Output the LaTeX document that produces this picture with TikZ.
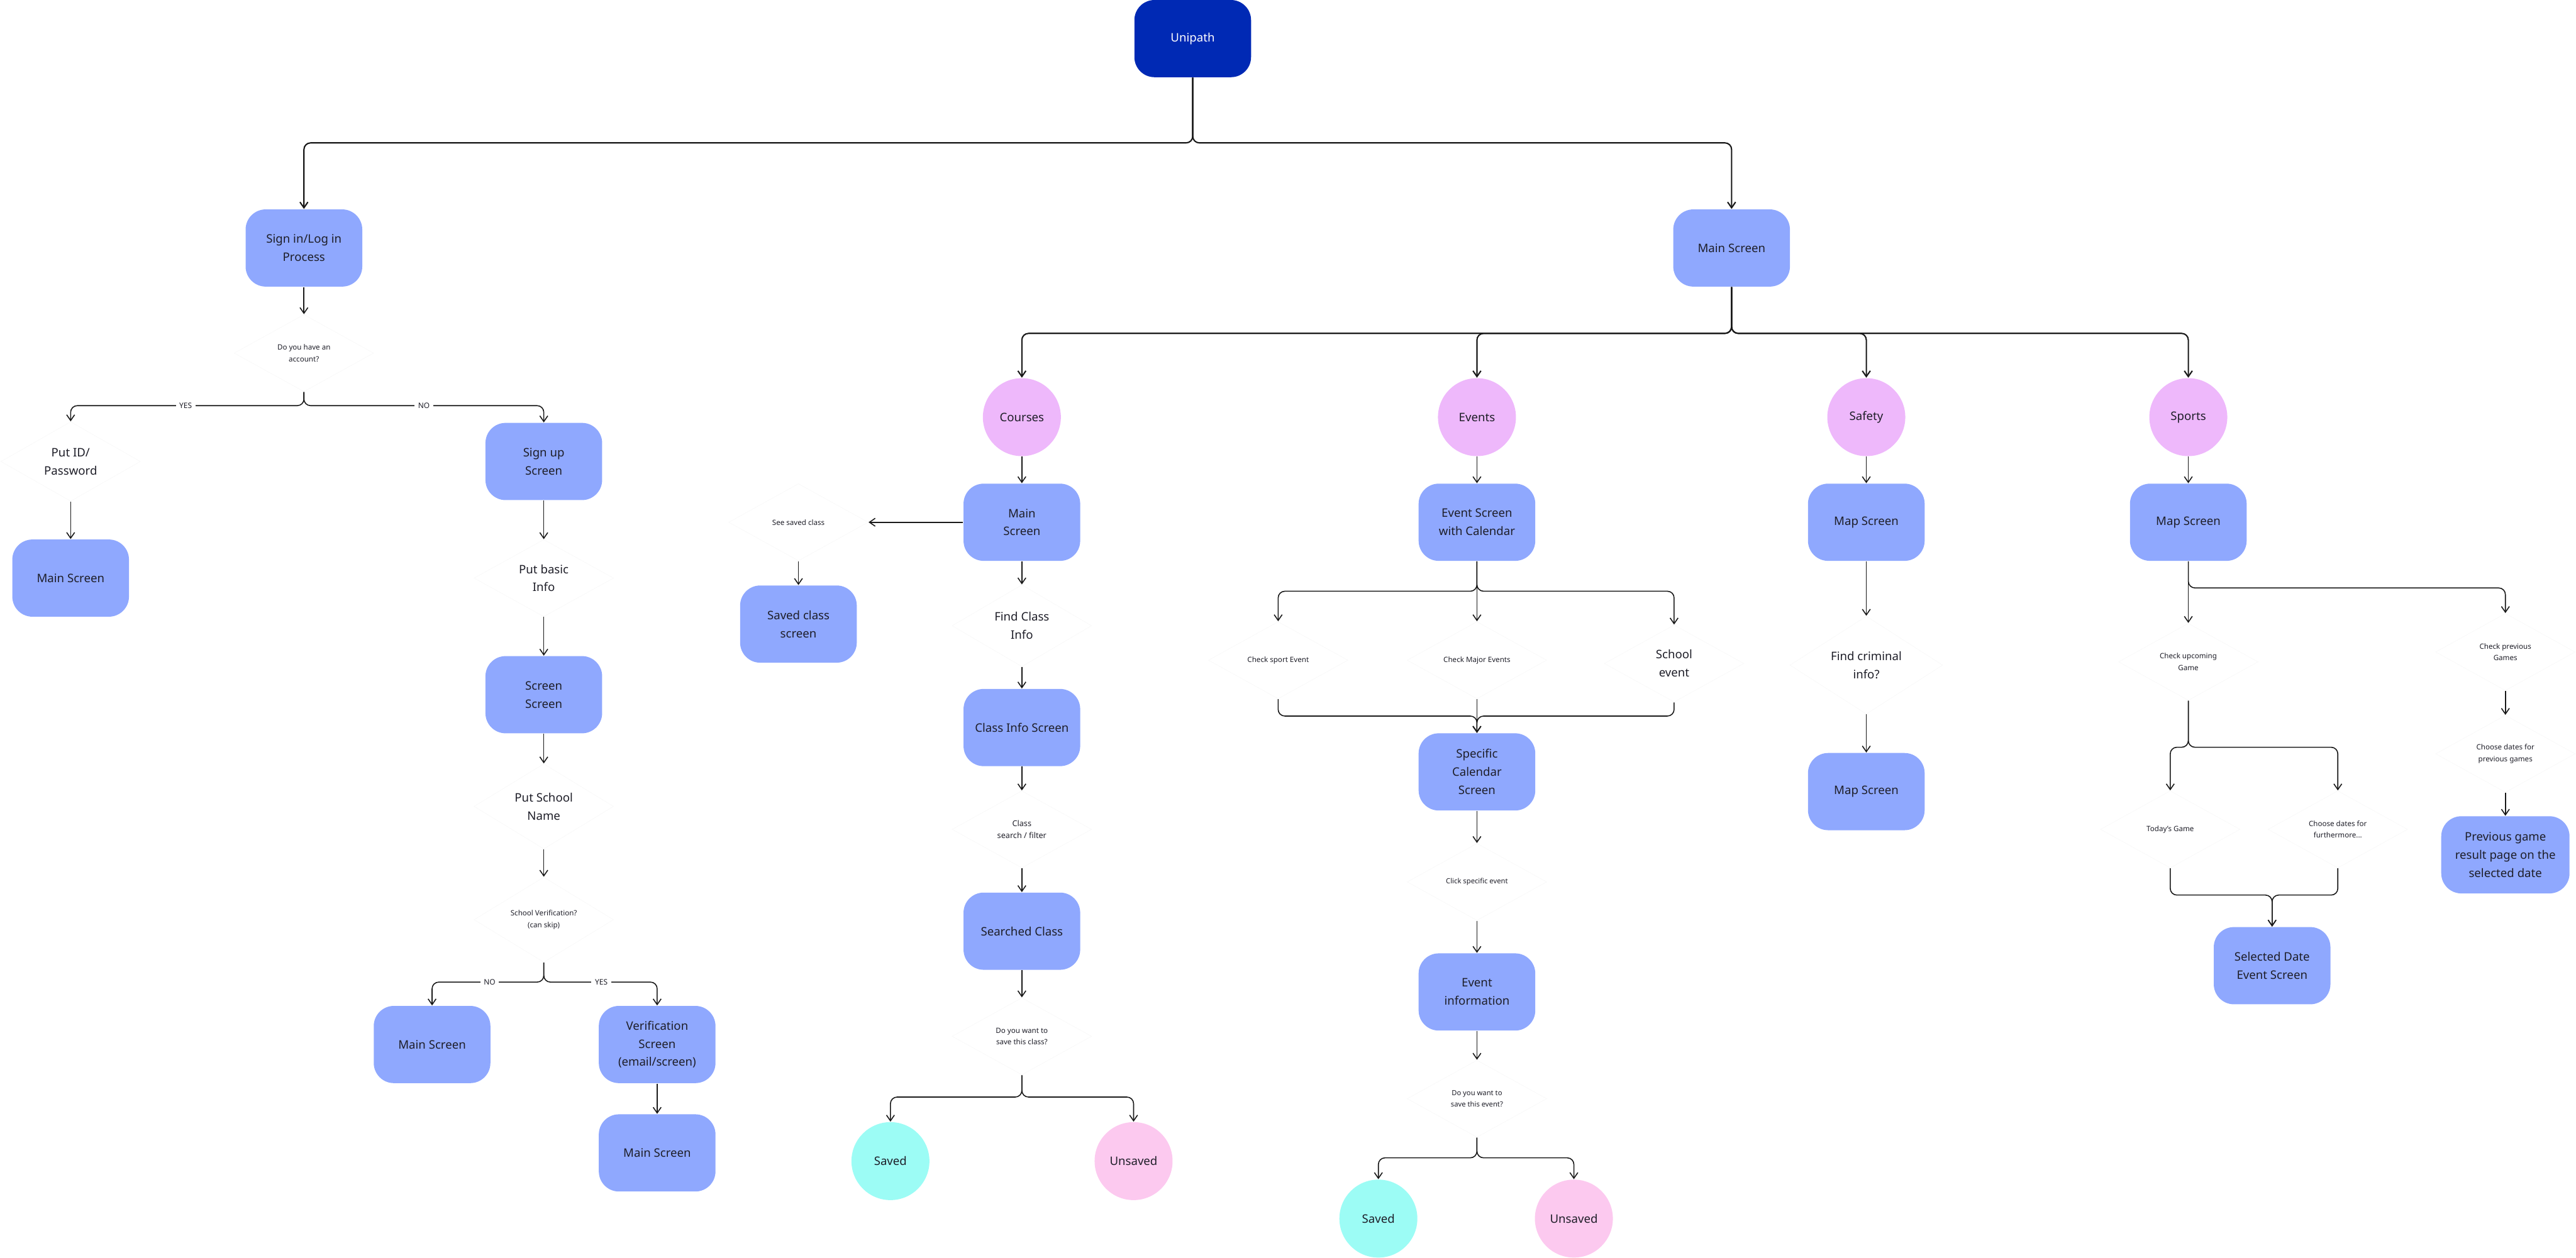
\documentclass[tikz,border=0pt]{standalone}
\usepackage{fontspec}
\setmainfont{Noto Sans}
\usetikzlibrary{shapes.geometric,arrows.meta}
\definecolor{boxblue}{RGB}{143,168,254}
\definecolor{darkblue}{RGB}{0,41,180}
\definecolor{catpink}{RGB}{238,184,251}
\definecolor{savecyan}{RGB}{156,252,245}
\definecolor{unsavepink}{RGB}{252,201,239}
\definecolor{txt}{RGB}{30,30,40}
\begin{document}
\begin{tikzpicture}[x=0.026122cm,y=-0.026122cm,
  screen/.style={rectangle, rounded corners=0.32cm, fill=boxblue, minimum width=1.855cm, minimum height=1.228cm, inner sep=1pt, align=center, text=txt, font=\fontsize{5.3}{8.2}\selectfont},
  topbox/.style={screen, fill=darkblue, text=white},
  circ/.style={circle, minimum size=1.24cm, inner sep=0pt, align=center, text=txt, font=\fontsize{5.3}{8.2}\selectfont},
  dia/.style={diamond, draw=black!2, line width=0.3pt, minimum width=2.22cm, minimum height=1.228cm, inner sep=0pt, align=center, text=txt, font=\fontsize{3.3}{5.2}\selectfont},
  diabig/.style={dia, font=\fontsize{5.3}{8.2}\selectfont},
  diabold/.style={dia, font=\fontsize{3.2}{5}\selectfont\bfseries},
  yn/.style={fill=white, inner sep=1.6pt, text=txt, font=\fontsize{3.4}{4}\selectfont},
  conn/.style={draw=black!90, line width=0.45pt, rounded corners=3pt, -{Straight Barb[length=2.6pt,width=3.6pt]}},
  topconn/.style={conn, line width=0.6pt}
]
\useasboundingbox (0,0) rectangle (1568,766);

% top
\node[topbox] (uni) at (726,23.5) {Unipath};
\node[screen] (signin) at (185,151) {Sign in/Log in\\Process};
\node[screen] (mainR) at (1054,151) {Main Screen};

% sign in branch
\node[dia] (acct) at (185,215) {Do you have an\\account?};
\node[diabig] (putid) at (43,281) {Put ID/\\Password};
\node[screen] (mainL) at (43,352) {Main Screen};
\node[screen] (signup) at (331,281) {Sign up\\Screen};
\node[diabig] (basic) at (331,352) {Put basic\\Info};
\node[screen] (scr) at (331,423) {Screen\\Screen};
\node[diabig] (sname) at (331,491) {Put School\\Name};
\node[dia] (sverif) at (331,560) {School Verification?\\(can skip)};
\node[screen] (mainN) at (263,636) {Main Screen};
\node[screen] (verscr) at (400,636) {Verification\\Screen\\(email/screen)};
\node[screen] (mainV) at (400,702) {Main Screen};

% courses
\node[circ, fill=catpink] (courses) at (622,254) {Courses};
\node[screen] (mainC) at (622,318) {Main\\Screen};
\node[dia] (seesaved) at (486,318) {See saved class};
\node[screen] (savedcls) at (486,380) {Saved class\\screen};
\node[diabig] (findcls) at (622,381) {Find Class\\Info};
\node[screen] (clsinfo) at (622,443) {Class Info Screen};
\node[dia, font=\fontsize{3.6}{5.6}\selectfont] (search) at (622,505) {Class\\search / filter};
\node[screen] (searched) at (622,567) {Searched Class};
\node[dia] (savecls) at (622,631) {Do you want to\\save this class?};
\node[circ, fill=savecyan] (saved1) at (542,707) {Saved};
\node[circ, fill=unsavepink] (unsaved1) at (690,707) {Unsaved};

% events
\node[circ, fill=catpink] (events) at (899,254) {Events};
\node[screen] (evscr) at (899,318) {Event Screen\\with Calendar};
\node[dia] (sport) at (778,402) {Check sport Event};
\node[dia] (major) at (899,402) {Check Major Events};
\node[diabig] (school) at (1019,404) {School\\event};
\node[screen] (spec) at (899,470) {Specific\\Calendar\\Screen};
\node[diabold] (click) at (899,537) {Click specific event};
\node[screen] (evinfo) at (899,604) {Event\\information};
\node[diabold] (saveev) at (899,669) {Do you want to\\save this event?};
\node[circ, fill=savecyan] (saved2) at (839,742) {Saved};
\node[circ, fill=unsavepink] (unsaved2) at (958,742) {Unsaved};

% safety
\node[circ, fill=catpink] (safety) at (1136,254) {Safety};
\node[screen] (map1) at (1136,318) {Map Screen};
\node[diabig, minimum width=2.43cm] (crim) at (1136,405) {Find criminal\\info?};
\node[screen] (map2) at (1136,482) {Map Screen};

% sports
\node[circ, fill=catpink] (sports) at (1332,254) {Sports};
\node[screen] (map3) at (1332,318) {Map Screen};
\node[dia] (upc) at (1332,403) {Check upcoming\\Game};
\node[dia] (prev) at (1525,397) {Check previous\\Games};
\node[dia] (chprev) at (1525,459) {Choose dates for\\previous games};
\node[screen, minimum width=2.04cm] (prevres) at (1525,520.5) {Previous game\\result page on the\\selected date};
\node[dia] (today) at (1321,505) {Today's Game};
\node[dia] (further) at (1423,505) {Choose dates for\\furthermore...};
\node[screen] (seldate) at (1383,588) {Selected Date\\Event Screen};

% ---- connectors ----
\draw[topconn] (uni.south) -- (726,87) -- (185,87) -- (signin.north);
\draw[topconn] (uni.south) -- (726,87) -- (1054,87) -- (mainR.north);
\draw[topconn] (mainR.south) -- (1054,203) -- (622,203) -- (courses.north);
\draw[topconn] (mainR.south) -- (1054,203) -- (899,203) -- (events.north);
\draw[topconn] (mainR.south) -- (1054,203) -- (1136,203) -- (safety.north);
\draw[topconn] (mainR.south) -- (1054,203) -- (1332,203) -- (sports.north);

\draw[conn] (signin.south) -- (acct.north);
\draw[conn] (acct.south) -- (185,247) -- (43,247) -- (putid.north);
\draw[conn] (acct.south) -- (185,247) -- (331,247) -- (signup.north);
\node[yn] (yes1) at (113,247) {YES};
\node[yn] (no1) at (258,247) {NO};
\draw[conn] (putid.south) -- (mainL.north);
\draw[conn] (signup.south) -- (basic.north);
\draw[conn] (basic.south) -- (scr.north);
\draw[conn] (scr.south) -- (sname.north);
\draw[conn] (sname.south) -- (sverif.north);
\draw[conn] (sverif.south) -- (331,598) -- (263,598) -- (mainN.north);
\draw[conn] (sverif.south) -- (331,598) -- (400,598) -- (verscr.north);
\node[yn] (no2) at (298,598) {NO};
\node[yn] (yes2) at (366,598) {YES};
\draw[conn] (verscr.south) -- (mainV.north);

\draw[conn] (courses.south) -- (mainC.north);
\draw[conn] (mainC.west) -- (seesaved.east);
\draw[conn] (seesaved.south) -- (savedcls.north);
\draw[conn] (mainC.south) -- (findcls.north);
\draw[conn] (findcls.south) -- (clsinfo.north);
\draw[conn] (clsinfo.south) -- (search.north);
\draw[conn] (search.south) -- (searched.north);
\draw[conn] (searched.south) -- (savecls.north);
\draw[conn] (savecls.south) -- (622,668) -- (542,668) -- (saved1.north);
\draw[conn] (savecls.south) -- (622,668) -- (690,668) -- (unsaved1.north);

\draw[conn] (events.south) -- (evscr.north);
\draw[conn] (evscr.south) -- (899,360) -- (778,360) -- (sport.north);
\draw[conn] (evscr.south) -- (major.north);
\draw[conn] (evscr.south) -- (899,360) -- (1019,360) -- (school.north);
\draw[conn] (sport.south) -- (778,436) -- (899,436) -- (spec.north);
\draw[conn] (school.south) -- (1019,436) -- (899,436) -- (spec.north);
\draw[conn] (major.south) -- (spec.north);
\draw[conn] (spec.south) -- (click.north);
\draw[conn] (click.south) -- (evinfo.north);
\draw[conn] (evinfo.south) -- (saveev.north);
\draw[conn] (saveev.south) -- (899,705) -- (839,705) -- (saved2.north);
\draw[conn] (saveev.south) -- (899,705) -- (958,705) -- (unsaved2.north);

\draw[conn] (safety.south) -- (map1.north);
\draw[conn] (map1.south) -- (crim.north);
\draw[conn] (crim.south) -- (map2.north);

\draw[conn] (sports.south) -- (map3.north);
\draw[conn] (map3.south) -- (upc.north);
\draw[conn] (map3.south) -- (1332,358) -- (1525,358) -- (prev.north);
\draw[conn] (prev.south) -- (chprev.north);
\draw[conn] (chprev.south) -- (prevres.north);
\draw[conn] (upc.south) -- (1332,455) -- (1321,455) -- (today.north);
\draw[conn] (upc.south) -- (1332,455) -- (1423,455) -- (further.north);
\draw[conn] (today.south) -- (1321,545) -- (1383,545) -- (seldate.north);
\draw[conn] (further.south) -- (1423,545) -- (1383,545) -- (seldate.north);
\end{tikzpicture}
\end{document}
